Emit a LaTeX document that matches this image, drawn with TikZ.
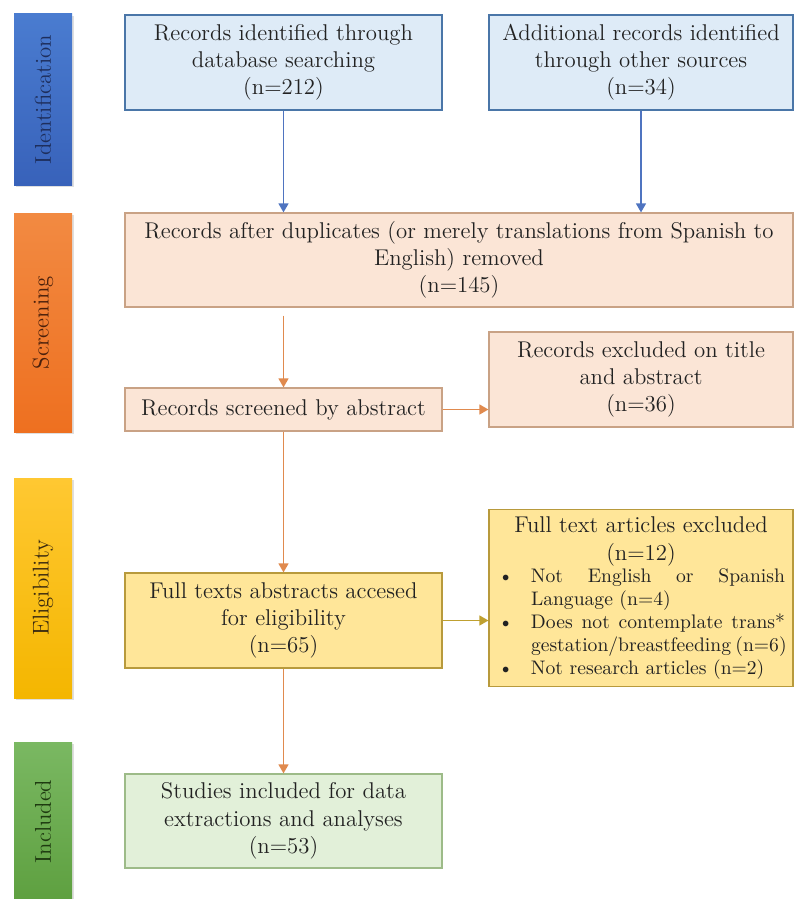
\documentclass[tikz,border=0pt]{standalone}
\usetikzlibrary{arrows.meta,shadows}
\definecolor{txt}{HTML}{222222}
\definecolor{bfill}{HTML}{DEEBF7}
\definecolor{bdraw}{HTML}{4A76A8}
\definecolor{ofill}{HTML}{FBE5D6}
\definecolor{odraw}{HTML}{C9A285}
\definecolor{yfill}{HTML}{FFE699}
\definecolor{ydraw}{HTML}{B89A3C}
\definecolor{gfill}{HTML}{E2F0D9}
\definecolor{gdraw}{HTML}{9DBB88}
\definecolor{barrowc}{HTML}{4F74C0}
\definecolor{oarrowc}{HTML}{E08A4E}
\definecolor{yarrowc}{HTML}{BFA030}
\definecolor{barTop}{HTML}{4A7CD0}
\definecolor{barBot}{HTML}{3862BA}
\definecolor{orTop}{HTML}{F28A42}
\definecolor{orBot}{HTML}{EE7020}
\definecolor{yeTop}{HTML}{FFC832}
\definecolor{yeBot}{HTML}{F4B600}
\definecolor{grTop}{HTML}{7AB862}
\definecolor{grBot}{HTML}{5EA040}
\definecolor{tBlue}{HTML}{1E2E5C}
\definecolor{tOr}{HTML}{4A200C}
\definecolor{tYe}{HTML}{3A2A10}
\definecolor{tGr}{HTML}{1E3A10}
\newcommand\bulletitem[1]{\par\noindent\hangindent=17pt\hangafter=1\makebox[17pt][l]{\hspace{0.5pt}\textbullet}\ignorespaces#1\par}
\begin{document}
\begin{tikzpicture}[x=0.5pt,y=-0.5pt,
  every node/.style={font=\fontsize{11.4}{13.6}\selectfont, text=txt},
  box/.style={draw, rectangle, line width=0.6pt, align=center, inner sep=3pt},
  bbox/.style={box, fill=bfill, draw=bdraw},
  obox/.style={box, fill=ofill, draw=odraw},
  ybox/.style={box, fill=yfill, draw=ydraw},
  gbox/.style={box, fill=gfill, draw=gdraw},
  bar/.style={rectangle, rotate=90, minimum height=29pt, inner sep=0pt,
     drop shadow={opacity=0.25, shadow xshift=0.8pt, shadow yshift=-0.8pt}},
  arr/.style={line width=0.7pt, -{Triangle[length=4.5pt,width=5pt]}},
  barrow/.style={arr, draw=barrowc},
  oarrow/.style={arr, draw=oarrowc},
  yarrow/.style={arr, draw=yarrowc}
]
\useasboundingbox (0,0) rectangle (797,899);

% phase bars
\node[bar, top color=barTop, bottom color=barBot, text=tBlue, minimum width=85.5pt] (pid) at (43,99.5) {Identification};
\node[bar, top color=orTop, bottom color=orBot, text=tOr, minimum width=109.5pt] (psc) at (43,322.5) {Screening};
\node[bar, top color=yeTop, bottom color=yeBot, text=tYe, minimum width=110pt] (pel) at (43,588) {Eligibility};
\node[bar, top color=grTop, bottom color=grBot, text=tGr, minimum width=79pt] (pin) at (43,821.5) {Included};

% boxes
\node[bbox, minimum width=158.5pt, minimum height=47.5pt] (db) at (283.5,62.5)
  {Records identified through\\ database searching\\ (n=212)};
\node[bbox, minimum width=152pt, minimum height=47.5pt] (oth) at (641,62.5)
  {Additional records identified\\ through other sources\\ (n=34)};
\node[obox, minimum width=334pt, minimum height=47pt] (dup) at (459,260)
  {Records after duplicates (or merely translations from Spanish to\\ English) removed\\ (n=145)};
\node[obox, minimum width=158.5pt, minimum height=21.5pt] (scr) at (283.5,409.5)
  {Records screened by abstract};
\node[obox, minimum width=152pt, minimum height=47.5pt] (ex1) at (641,379.5)
  {Records excluded on title\\ and abstract\\ (n=36)};
\node[ybox, minimum width=158.5pt, minimum height=47.5pt] (full) at (283.5,620.5)
  {Full texts abstracts accesed\\ for eligibility\\ (n=65)};
\node[ybox, minimum width=152pt, minimum height=88.5pt, text width=144pt, align=justify] (ex2) at (641,598)
  {\parindent=0pt{\centering Full text articles excluded\\ (n=12)\par}%
   {\fontsize{9.8}{11.4}\selectfont\hyphenpenalty=10000\emergencystretch=5pt
   \bulletitem{Not English or Spanish Language (n=4)}%
   \bulletitem{Does not contemplate trans* gestation/breastfeeding (n=6)}%
   \bulletitem{Not research articles (n=2)}}};
\node[gbox, minimum width=158.5pt, minimum height=47pt] (stud) at (283.5,821)
  {Studies included for data\\ extractions and analyses\\ (n=53)};

% connectors
\draw[barrow] (db.south) -- (db.south |- dup.north);
\draw[barrow] (oth.south) -- (oth.south |- dup.north);
\draw[oarrow, shorten <=4pt] (dup.south -| scr.north) -- (scr.north);
\draw[oarrow] (scr.east) -- (ex1.west |- scr.east);
\draw[oarrow] (scr.south) -- (full.north);
\draw[yarrow] (full.east) -- (ex2.west |- full.east);
\draw[oarrow] (full.south) -- (stud.north);
\end{tikzpicture}
\end{document}
